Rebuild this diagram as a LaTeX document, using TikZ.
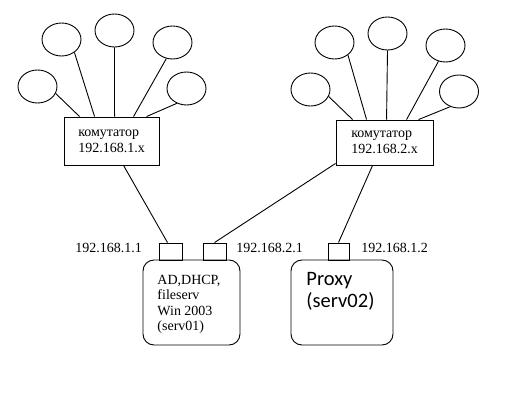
\documentclass[tikz,border=0pt]{standalone}
\usepackage{fontspec}
\setmainfont{Liberation Serif}
\newfontfamily\proxyfont{Carlito}
\usetikzlibrary{shapes.geometric,positioning}
\tikzset{
  pc/.style={draw, ellipse, minimum width=39pt, minimum height=33pt, inner sep=0pt},
  switchbox/.style={draw, align=left, inner sep=0pt, font=\fontsize{14}{16}\selectfont},
  port/.style={draw, minimum width=23pt, minimum height=17pt, inner sep=0pt},
  server/.style={draw, rounded corners=11pt, minimum height=85pt, inner sep=0pt},
  ip/.style={font=\fontsize{14}{16}\selectfont, inner sep=0pt, anchor=base west},
}
\begin{document}
\begin{tikzpicture}[x=1pt, y=-1pt, line width=0.9pt]
\useasboundingbox (0,0) rectangle (527,403);
% switch 192.168.1.x
\node[switchbox, minimum width=95pt, minimum height=48pt] (swL) at (111.5,141) {комутатор\\192.168.1.x};
\node[pc] (pcL1) at (61.5,39.5)  {};
\node[pc] (pcL2) at (114.5,30.5) {};
\node[pc] (pcL3) at (172.5,42.5) {};
\node[pc] (pcL4) at (37.5,86.5)  {};
\node[pc] (pcL5) at (186.5,88.5) {};
\draw (pcL4.-21)  -- ([xshift=16pt]swL.north west);
\draw (pcL1.-45)  -- ([xshift=31pt]swL.north west);
\draw (pcL2.south) -- ([xshift=51pt]swL.north west);
\draw (pcL3.-111) -- ([xshift=70pt]swL.north west);
\draw (pcL5.-123) -- ([xshift=83pt]swL.north west);
% switch 192.168.2.x
\node[switchbox, minimum width=97pt, minimum height=45pt] (swR) at (384.5,142.5) {комутатор\\192.168.2.x};
\node[pc] (pcR1) at (334.5,42.5) {};
\node[pc] (pcR2) at (387.5,33.5) {};
\node[pc] (pcR3) at (445.5,45.5) {};
\node[pc] (pcR4) at (310.5,89.5) {};
\node[pc] (pcR5) at (459,91.5)   {};
\draw (pcR4.-21)  -- ([xshift=17pt]swR.north west);
\draw (pcR1.-43)  -- ([xshift=31pt]swR.north west);
\draw (pcR2.south) -- ([xshift=51pt]swR.north west);
\draw (pcR3.-114) -- ([xshift=71pt]swR.north west);
\draw (pcR5.-120) -- ([xshift=83pt]swR.north west);
% servers
\node[server, minimum width=97pt]  (srvA) at (191.5,302.5) {};
\node[server, minimum width=102pt] (srvB) at (342,302.5)   {};
\node[port] (pA) at (170.5,251.5) {};
\node[port] (pB) at (214.5,251.5) {};
\node[port, minimum width=21pt] (pC) at (338.5,251.5) {};
\node[anchor=north west, inner sep=0pt, align=left, font=\fontsize{14}{15.5}\selectfont] (txtA) at (157,274.7)
  {AD,DHCP,\\fileserv\\Win 2003\\(serv01)};
\node[anchor=north west, inner sep=0pt, align=left, font=\proxyfont\fontsize{20.5}{22}\selectfont] (txtB) at (306,271.8)
  {Proxy\\(serv02)};
\node[ip] (ipA) at (75,253)  {192.168.1.1};
\node[ip] (ipB) at (236,253) {192.168.2.1};
\node[ip] (ipC) at (361,253) {192.168.1.2};
\draw ([xshift=60pt]swL.south west) -- ([xshift=-3pt]pA.north);
\draw ([yshift=2pt]swR.south west)  -- (pB.north);
\draw ([xshift=37pt]swR.south west) -- (pC.north);
\end{tikzpicture}
\end{document}
